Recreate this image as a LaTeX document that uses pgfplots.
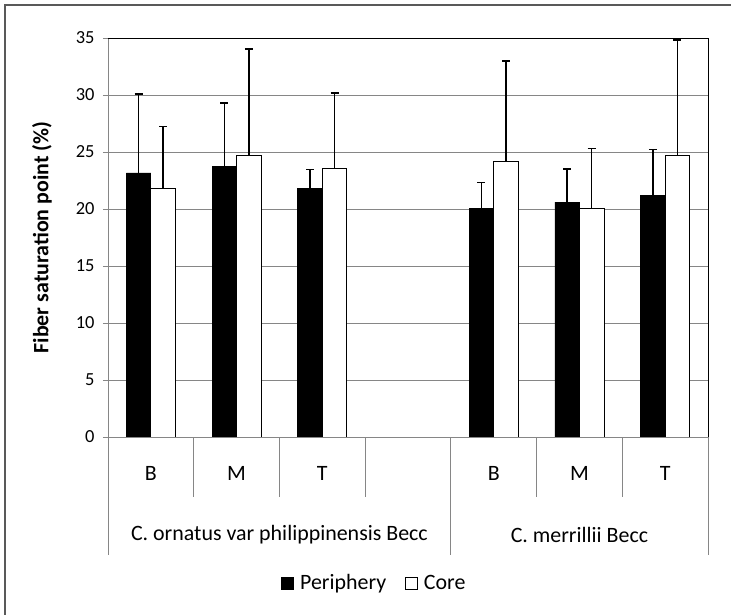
\documentclass[border=0pt]{standalone}
\usepackage{fontspec}
\setmainfont{Carlito}
\usepackage{pgfplots}
\pgfplotsset{compat=1.18}
\definecolor{gridgray}{RGB}{134,134,134}
\definecolor{framegray}{RGB}{89,89,89}
\begin{document}
\begin{tikzpicture}
\path[use as bounding box] (0bp,0bp) rectangle (731bp,615bp);
\draw[framegray, line width=1.2bp] (5bp,0bp) -- (5bp,610bp) -- (731bp,610bp);
\begin{axis}[
  at={(108bp,178bp)}, anchor=south west,
  scale only axis, width=600bp, height=399bp,
  xmin=-0.5, xmax=6.5, ymin=0, ymax=35,
  ybar=0pt, bar width=24.5bp,
  clip=false,
  axis line style={draw=none},
  ytick={0,5,...,35},
  ytick pos=left,
  tick align=outside,
  major tick length=5bp,
  major y tick style={gridgray, line width=0.9bp},
  ymajorgrids, grid style={gridgray, line width=0.9bp},
  xtick={0,...,6},
  xticklabels={B,M,T,{},B,M,T},
  major x tick style={draw=none},
  xticklabel style={font=\fontsize{22}{26}\selectfont, anchor=center, yshift=-31bp},
  /pgf/number format/assume math mode=true,
  yticklabel style={font=\fontsize{18.5}{22}\selectfont, xshift=-5bp},
  ylabel={Fiber saturation point (\%)},
  every axis y label/.style={at={(axis description cs:-0.11,0.5)}, rotate=90, anchor=center,
    font=\fontsize{22}{26}\selectfont\bfseries},
  legend style={at={(axis description cs:0.444,-0.366)}, anchor=center, draw=none,
    font=\fontsize{22}{26}\selectfont, legend columns=2,
    /tikz/every odd column/.append style={column sep=4bp},
    /tikz/every even column/.append style={column sep=17bp}},
  legend image code/.code={\draw[#1, line width=0.8bp] (0bp,-6bp) rectangle (12bp,6bp);},
]
\addplot[fill=black, draw=black, line width=0.8bp,
  error bars/.cd, y dir=plus, y explicit,
  error bar style={line width=1.4bp, black},
  error mark options={rotate=90, black, line width=1.6bp, mark size=4bp}]
  coordinates {
  (0,23.16) +- (0,6.94)
  (1,23.77) +- (0,5.53)
  (2,21.81) +- (0,1.64)
  (4,20.06) +- (0,2.25)
  (5,20.61) +- (0,2.90)
  (6,21.20) +- (0,4.03)
  };
\addlegendentry{Periphery}
\addplot[fill=white, draw=black, line width=0.8bp,
  error bars/.cd, y dir=plus, y explicit,
  error bar style={line width=1.4bp, black},
  error mark options={rotate=90, black, line width=1.6bp, mark size=4bp}]
  coordinates {
  (0,21.78) +- (0,5.47)
  (1,24.68) +- (0,9.36)
  (2,23.54) +- (0,6.61)
  (4,24.21) +- (0,8.77)
  (5,20.06) +- (0,5.23)
  (6,24.71) +- (0,10.11)
  };
\addlegendentry{Core}
\draw[gridgray, line width=0.9bp] (rel axis cs:0,1) -- (rel axis cs:0,0) -- (rel axis cs:1,0);
\draw[black, line width=0.9bp] (rel axis cs:0,1) -- (rel axis cs:1,1) -- (rel axis cs:1,0);
\draw[gridgray, line width=0.9bp] (axis cs:-0.5,0) -- ++(0bp,-118bp);
\draw[gridgray, line width=0.9bp] (axis cs:0.5,0) -- ++(0bp,-60bp);
\draw[gridgray, line width=0.9bp] (axis cs:1.5,0) -- ++(0bp,-60bp);
\draw[gridgray, line width=0.9bp] (axis cs:2.5,0) -- ++(0bp,-60bp);
\draw[gridgray, line width=0.9bp] (axis cs:3.5,0) -- ++(0bp,-118bp);
\draw[gridgray, line width=0.9bp] (axis cs:4.5,0) -- ++(0bp,-60bp);
\draw[gridgray, line width=0.9bp] (axis cs:5.5,0) -- ++(0bp,-60bp);
\draw[gridgray, line width=0.9bp] (axis cs:6.5,0) -- ++(0bp,-118bp);
\node[font=\fontsize{22}{26}\selectfont] at (axis cs:1.5,0) [yshift=-98bp] {C. ornatus var philippinensis Becc};
\node[font=\fontsize{22}{26}\selectfont] at (axis cs:5,0) [yshift=-98bp] {C. merrillii Becc};
\end{axis}
\end{tikzpicture}
\end{document}
